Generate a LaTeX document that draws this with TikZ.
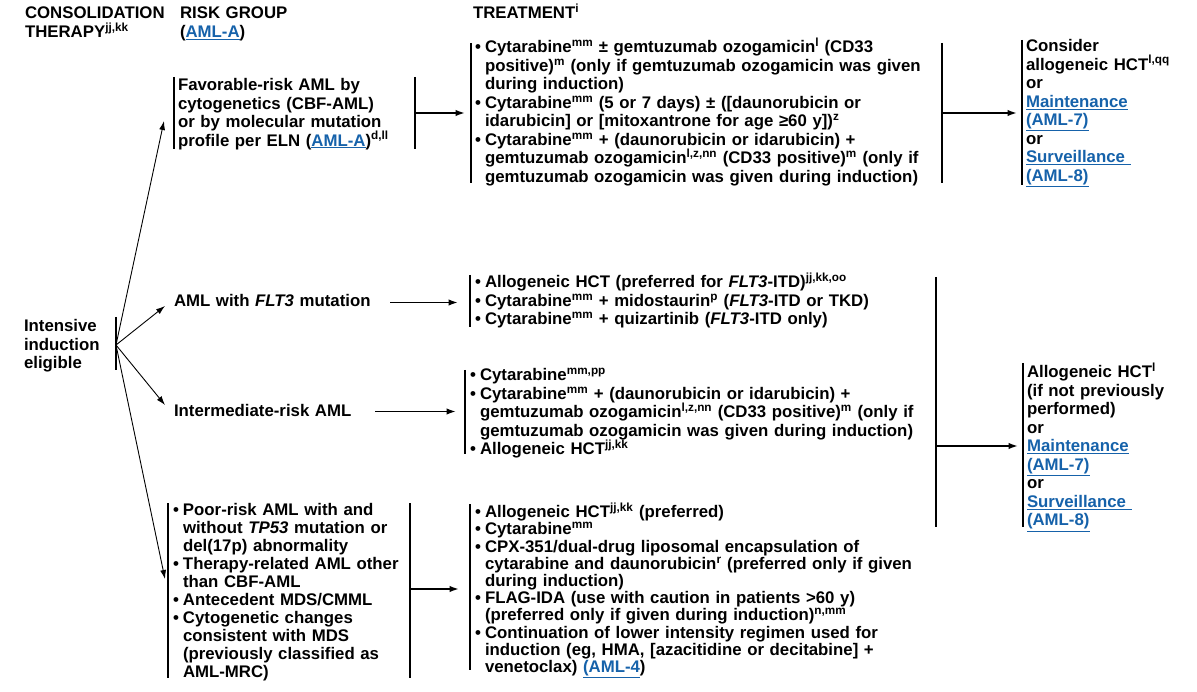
\documentclass[tikz,border=0pt]{standalone}
\usepackage{fontspec}
\setmainfont{Liberation Sans}
\usetikzlibrary{arrows.meta}
\definecolor{lnk}{RGB}{22,98,170}
\newcommand{\lk}[1]{\textcolor{lnk}{\underline{#1}}}
\newcommand{\sps}[1]{\textsuperscript{#1}}
\newlength{\bw}\setlength{\bw}{10pt}
\newcommand{\bl}{\makebox[\bw][l]{\textbullet}}
\newcommand{\ci}{\hspace*{\bw}}
\newcommand{\fsA}{\fontsize{16.8}{18.5}\selectfont\bfseries\lineskiplimit=-20pt}
\newcommand{\fsB}{\fontsize{16.8}{17.2}\selectfont\bfseries\lineskiplimit=-20pt}
\newcommand{\fsC}{\fontsize{16.8}{18.0}\selectfont\bfseries\lineskiplimit=-20pt}
\tikzset{
  txt/.style={anchor=base west, inner sep=0pt, outer sep=0pt, text width=#1, align=left, font=\fsA},
  bar/.style={line width=2pt},
  harr/.style={line width=1.7pt, -{Latex[length=9.5pt,width=6.5pt]}},
  darr/.style={line width=0.9pt, -{Latex[length=9pt,width=6pt]}},
}
\begin{document}
\begin{tikzpicture}[x=1pt,y=-1pt]
\useasboundingbox (0,0) rectangle (1197,692);
\fill[white] (0,0) rectangle (1197,692);
% headers
\node[txt=200pt] (h1) at (25,19) {CONSOLIDATION\\THERAPY\sps{jj,kk}};
\node[txt=200pt] (h2) at (180,19) {RISK GROUP\\(\lk{AML-A})};
\node[txt=200pt] (h3) at (473,19) {TREATMENT\sps{i}};
% intensive induction
\node[txt=120pt] (iie) at (24,331.7) {Intensive\\induction\\eligible};
\draw[bar] (116,317) -- (116,370);
\coordinate (iieB) at (116,345);
% favorable
\node[txt=260pt] (fav) at (178,90.7) {Favorable-risk AML by\\cytogenetics (CBF-AML)\\or by molecular mutation\\profile per ELN (\lk{AML-A})\sps{d,ll}};
\draw[bar] (174,77) -- (174,149);
\draw[bar] (415,77) -- (415,149);
\coordinate (favL) at (164,121);
\coordinate (favR) at (415,113);
\coordinate (ttopL) at (465,113);
% top treatment
\draw[bar] (471,43) -- (471,183);
\node[txt=480pt] (ttop) at (475,53) {\bl Cytarabine\sps{mm} ± gemtuzumab ozogamicin\sps{l} (CD33\\
\ci positive)\sps{m} (only if gemtuzumab ozogamicin was given\\
\ci during induction)\\
\bl Cytarabine\sps{mm} (5 or 7 days) ± ([daunorubicin or\\
\ci idarubicin] or [mitoxantrone for age ≥60 y])\sps{z}\\
\bl Cytarabine\sps{mm} + (daunorubicin or idarubicin) +\\
\ci gemtuzumab ozogamicin\sps{l,z,nn} (CD33 positive)\sps{m} (only if\\
\ci gemtuzumab ozogamicin was given during induction)};
\draw[bar] (942,43) -- (942,183);
\coordinate (tR) at (942,113);
\coordinate (rtopL) at (1017,113);
\draw[bar] (1022,40) -- (1022,185);
\node[txt=170pt] (rtop) at (1026,51.7) {Consider\\allogeneic HCT\sps{l,qq}\\or\\\lk{Maintenance}\\\lk{(AML-7)}\\or\\\lk{Surveillance\ }\\\lk{(AML-8)}};
% FLT3
\node[txt=300pt] (flt) at (174,306.5) {AML with \textit{FLT3} mutation};
\coordinate (fltL) at (165,306);
\coordinate (fltR) at (390,302.5);
\coordinate (tfltL) at (458,302.5);
\draw[bar] (470,275) -- (470,327);
\node[txt=460pt] (tflt) at (475,288) {\bl Allogeneic HCT (preferred for \textit{FLT3}-ITD)\sps{jj,kk,oo}\\
\bl Cytarabine\sps{mm} + midostaurin\sps{p} (\textit{FLT3}-ITD or TKD)\\
\bl Cytarabine\sps{mm} + quizartinib (\textit{FLT3}-ITD only)};
% intermediate
\node[txt=300pt] (inter) at (174,417) {Intermediate-risk AML};
\coordinate (interL) at (165,405);
\coordinate (interR) at (375,411.5);
\coordinate (tinterL) at (456,411.5);
\draw[bar] (465,370) -- (465,454);
\node[txt=470pt] (tinter) at (470,381) {\bl Cytarabine\sps{mm,pp}\\
\bl Cytarabine\sps{mm} + (daunorubicin or idarubicin) +\\
\ci gemtuzumab ozogamicin\sps{l,z,nn} (CD33 positive)\sps{m} (only if\\
\ci gemtuzumab ozogamicin was given during induction)\\
\bl Allogeneic HCT\sps{jj,kk}};
% big right bar
\draw[bar] (936,277) -- (936,527);
\coordinate (mR) at (936,446);
\coordinate (rmidL) at (1018,446);
\draw[bar] (1023,363) -- (1023,527);
\node[txt=170pt] (rmid) at (1027,378) {Allogeneic HCT\sps{l}\\(if not previously\\performed)\\or\\\lk{Maintenance}\\\lk{(AML-7)}\\or\\\lk{Surveillance\ }\\\lk{(AML-8)}};
% poor
\draw[bar] (168,503) -- (168,678);
\draw[bar] (410,503) -- (410,678);
\node[txt=240pt, font=\fsC] (poor) at (173,515) {\bl Poor-risk AML with and\\
\ci without \textit{TP53} mutation or\\
\ci del(17p) abnormality\\
\bl Therapy-related AML other\\
\ci than CBF-AML\\
\bl Antecedent MDS/CMML\\
\bl Cytogenetic changes\\
\ci consistent with MDS\\
\ci (previously classified as\\
\ci AML-MRC)};
\coordinate (poorL) at (165,579);
\coordinate (poorR) at (410,589);
\coordinate (tpoorL) at (459,589);
\draw[bar] (470,504) -- (470,670);
\node[txt=470pt, font=\fsB] (tpoor) at (475,517.7) {\bl Allogeneic HCT\sps{jj,kk} (preferred)\\
\bl Cytarabine\sps{mm}\\
\bl CPX-351/dual-drug liposomal encapsulation of\\
\ci cytarabine and daunorubicin\sps{r} (preferred only if given\\
\ci during induction)\\
\bl FLAG-IDA (use with caution in patients >60 y)\\
\ci (preferred only if given during induction)\sps{n,mm}\\
\bl Continuation of lower intensity regimen used for\\
\ci induction (eg, HMA, [azacitidine or decitabine] +\\
\ci venetoclax) \lk{(AML-4}\textcolor{black}{)}};
% connectors
\draw[darr] (iieB) -- (favL);
\draw[darr] (iieB) -- (fltL);
\draw[darr] (iieB) -- (interL);
\draw[darr] (iieB) -- (poorL);
\draw[harr] (favR) -- (ttopL);
\draw[harr] (tR) -- (rtopL);
\draw[harr] (fltR) -- (tfltL);
\draw[harr] (interR) -- (tinterL);
\draw[harr] (mR) -- (rmidL);
\draw[harr] (poorR) -- (tpoorL);
\end{tikzpicture}
\end{document}
